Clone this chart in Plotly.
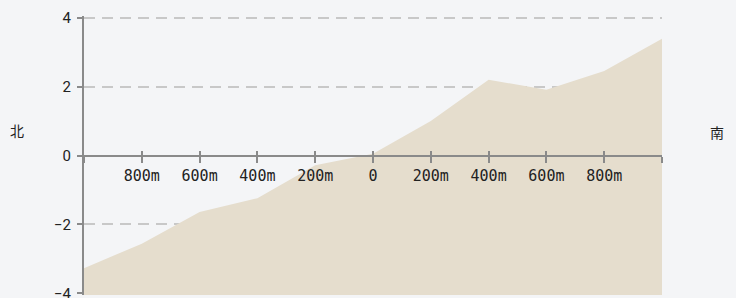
import plotly.graph_objects as go

# data
distance = [-1000, -800, -600, -400, -200, 0, 200, 400, 600, 800, 1000]
elevation = [-3.27, -2.56, -1.64, -1.24, -0.28, 0.05, 1.0, 2.2, 1.91, 2.45, 3.39]
x_tick_vals = [-1000, -800, -600, -400, -200, 0, 200, 400, 600, 800, 1000]
x_tick_text = ["", "800m", "600m", "400m", "200m", "0", "200m", "400m", "600m", "800m", ""]
y_tick_vals = [-4, -2, 0, 2, 4]
y_min, y_max = -4, 4

BG = "#f4f5f7"
FILL = "rgb(229,221,205)"
AXIS = "#8a8a8a"
pad = 0.05

fig = go.Figure()
fig.add_trace(go.Scatter(x=distance, y=[y_min - 0.3] * len(distance), mode="lines",
                         line=dict(width=0), hoverinfo="skip", showlegend=False))
fig.add_trace(go.Scatter(x=distance, y=elevation, mode="lines", fill="tonexty",
                         fillcolor=FILL, line=dict(width=0, color=FILL), showlegend=False))
# helper trace for the overlaid axis that draws the upper half of the ticks
fig.add_trace(go.Scatter(x=[distance[0]], y=[y_min], xaxis="x2", mode="markers",
                         marker=dict(opacity=0), hoverinfo="skip", showlegend=False))

fig.update_layout(
    width=736, height=298,
    margin=dict(l=84, r=74, t=16, b=3, autoexpand=False),
    paper_bgcolor=BG, plot_bgcolor=BG,
    xaxis=dict(range=[-1000, 1000], anchor="free", position=0.5, automargin=False,
               tickvals=x_tick_vals, ticktext=x_tick_text,
               ticks="outside", ticklen=6, tickwidth=2, tickcolor=AXIS,
               showline=True, linecolor=AXIS, linewidth=2,
               showgrid=False, zeroline=False,
               tickfont=dict(family="DejaVu Sans Mono", size=15, color="#222"),
               layer="above traces"),
    xaxis2=dict(range=[-1000, 1000], anchor="free", position=0.5, overlaying="x",
                side="bottom", automargin=False,
                tickvals=x_tick_vals, ticks="inside", ticklen=5, tickwidth=2,
                tickcolor=AXIS, showticklabels=False, showline=False,
                showgrid=False, zeroline=False, layer="above traces"),
    yaxis=dict(range=[y_min - pad, y_max + pad], tickvals=y_tick_vals, automargin=False,
               ticks="outside", ticklen=5, tickwidth=2, tickcolor=AXIS,
               showline=True, linecolor=AXIS, linewidth=2,
               showgrid=True, gridcolor="#c8c8c8", gridwidth=2, griddash="11px,7px",
               zeroline=False, ticklabeloverflow="allow", ticklabelstandoff=3,
               tickfont=dict(family="Roboto", size=15, color="#222"),
               layer="above traces"),
    annotations=[
        dict(text="北", xref="paper", yref="paper", x=-0.116, y=0.59, xanchor="center",
             yanchor="middle", showarrow=False,
             font=dict(family="Noto Sans CJK SC", size=14, color="#222")),
        dict(text="南", xref="paper", yref="paper", x=1.095, y=0.585, xanchor="center",
             yanchor="middle", showarrow=False,
             font=dict(family="Noto Sans CJK SC", size=14, color="#222")),
    ],
)

fig.write_html("out.html", config={"displayModeBar": False},
               post_script="document.body.style.margin='0';document.body.style.overflow='hidden';")
